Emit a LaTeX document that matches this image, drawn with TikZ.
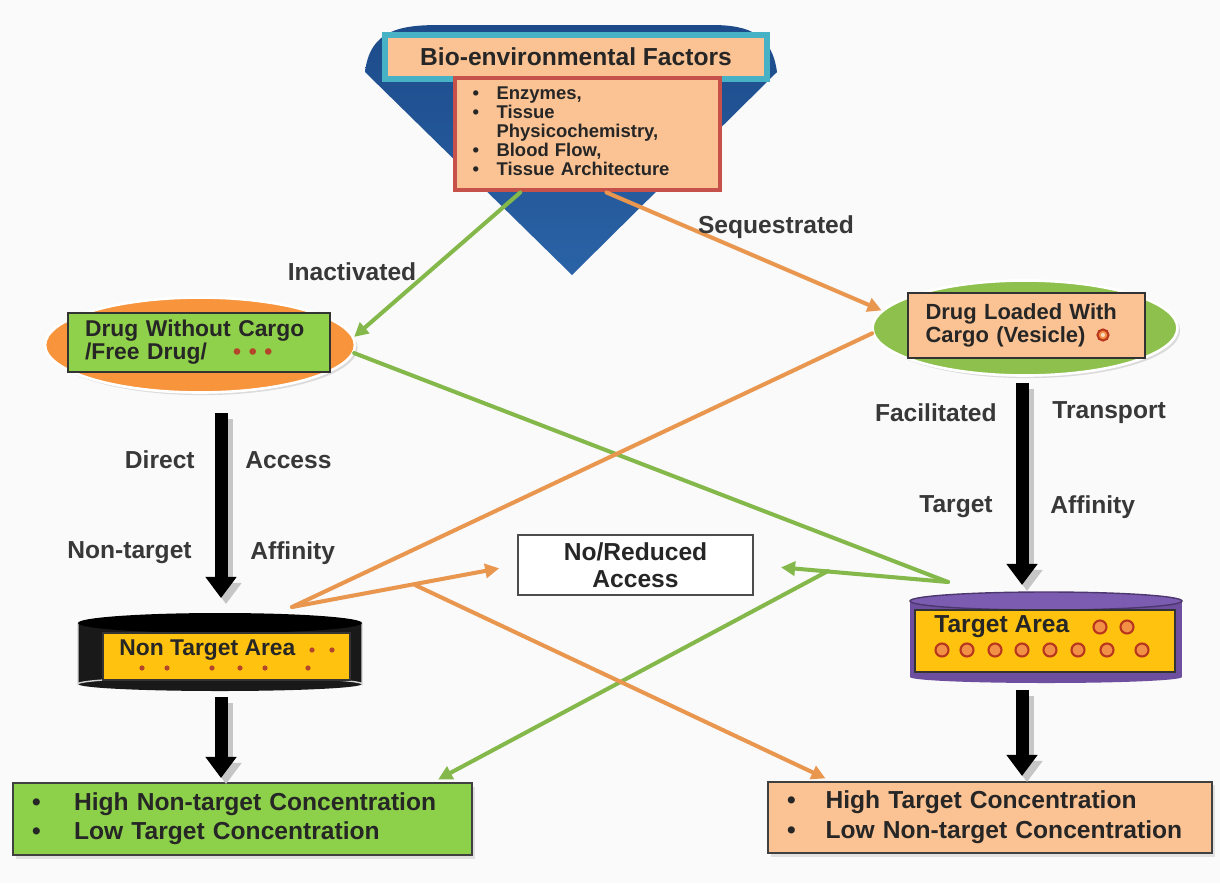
\documentclass[tikz,border=0pt]{standalone}
\usepackage{fontspec}
\setmainfont{Liberation Sans}
\usetikzlibrary{shapes.geometric,arrows.meta,shadows}

\definecolor{bgc}{HTML}{FAFAFA}
\definecolor{funnelblue}{HTML}{1D4B8A}
\definecolor{funnelmid}{HTML}{2A63A6}
\definecolor{titleteal}{HTML}{47B2C6}
\definecolor{peach}{HTML}{FBC393}
\definecolor{factred}{HTML}{C6504A}
\definecolor{ovalorange}{HTML}{F7943C}
\definecolor{ovalgreen}{HTML}{8DC04C}
\definecolor{limegreen}{HTML}{8FD14A}
\definecolor{linegreen}{HTML}{84B84A}
\definecolor{lineorange}{HTML}{E9964F}
\definecolor{areayellow}{HTML}{FFC20E}
\definecolor{purp}{HTML}{6E4E9E}
\definecolor{purptop}{HTML}{7C5CB0}
\definecolor{dotred}{HTML}{B5452A}
\definecolor{ringorange}{HTML}{F29046}
\definecolor{ringred}{HTML}{B8361E}
\definecolor{resgreen}{HTML}{8DD04A}

\begin{document}
\begin{tikzpicture}[x=0.02cm,y=-0.02cm,
  every node/.style={font=\bfseries},
  lbl/.style={font=\bfseries\fontsize{14}{16}\selectfont, text=black!78, inner sep=0pt},
  oval/.style={ellipse, draw=white, line width=1.5pt, minimum height=1.9cm,
    drop shadow={opacity=0.25, shadow xshift=1.5pt, shadow yshift=-1.5pt}},
  inbox/.style={rectangle, draw=black!80, line width=1pt, align=left,
    font=\bfseries\fontsize{13}{13}\selectfont, text=black!85},
  resbox/.style={rectangle, draw=black!75, line width=1.3pt, align=left, inner xsep=0.38cm,
    font=\bfseries\fontsize{14}{17}\selectfont, text=black!85,
    drop shadow={opacity=0.2, shadow xshift=1.5pt, shadow yshift=-2pt}},
  ybox/.style={rectangle, draw=black!80, fill=areayellow, line width=1pt},
  gline/.style={draw=linegreen, line width=2.3pt, line cap=round},
  oline/.style={draw=lineorange, line width=2.3pt, line cap=round},
  garrow/.style={gline, -{Triangle[length=8pt,width=8pt]}},
  oarrow/.style={oline, -{Triangle[length=8pt,width=8pt]}},
  bigarrow/.style={draw=black, line width=7.4pt, -{Triangle[length=12pt,width=17pt]}},
  shadowarrow/.style={bigarrow, draw=gray!45},
  dot/.style={fill=dotred},
  ring/.style={fill=ringorange, draw=ringred, line width=1.2pt}
]
\useasboundingbox (0,0) rectangle (1220,883);
\fill[bgc] (0,0) rectangle (1220,883);

% funnel behind the factors
\shade[top color=funnelblue, bottom color=funnelmid]
  (365,72) .. controls (370,30) and (400,25) .. (440,25) -- (712,25)
  .. controls (750,25) and (772,35) .. (777,72) -- (572,275) -- cycle;
\node[rectangle, draw=titleteal, line width=3.4pt, fill=peach, minimum width=7.64cm, minimum height=0.88cm,
  font=\bfseries\fontsize{14}{16}\selectfont, text=black!85] (bio) at (576,57) {Bio-environmental Factors};
\node[rectangle, draw=factred, line width=2.8pt, fill=peach, minimum width=5.3cm, minimum height=2.24cm,
  text width=4.6cm, inner xsep=0.35cm, align=left, font=\bfseries\fontsize{10.5}{10.8}\selectfont, text=black!85] (factors) at (587.5,134)
  {\begin{tabular}{@{}l@{\hspace{10pt}}l@{}}
   \textbullet & Enzymes,\\
   \textbullet & Tissue\\
               & Physicochemistry,\\
   \textbullet & Blood Flow,\\
   \textbullet & Tissue Architecture
   \end{tabular}};

% drug forms
\node[oval, fill=ovalorange, minimum width=6.2cm] (freeOval) at (200,345) {};
\node[inbox, fill=limegreen, minimum width=5.24cm, minimum height=1.18cm, text width=4.56cm, inner xsep=0.34cm] (freeDrug) at (199,342.5)
  {Drug Without Cargo\\/Free Drug/\hspace{15pt}\textcolor{dotred}{\textbullet\ \textbullet\ \textbullet}};
\node[oval, fill=ovalgreen, minimum width=6.1cm] (cargoOval) at (1025,328) {};
\node[inbox, fill=peach, minimum width=4.74cm, minimum height=1.3cm, text width=4.04cm, inner xsep=0.35cm,
  font=\bfseries\fontsize{12.5}{13}\selectfont] (cargoDrug) at (1026.5,325.5)
  {Drug Loaded With\\Cargo (Vesicle)};
\fill[ring] (1103,335) circle[radius=5.5];
\fill[white!70!ringorange] (1103,335) circle[radius=2];

% non target area
\fill[black!90] (78,623) rectangle (362,684);
\fill[black!90] (220,684) ellipse[x radius=142, y radius=7];
\draw[gray!35, line width=0.8pt] (78,623) -- (78,684) arc[start angle=180, end angle=360, x radius=142, y radius=7] -- (362,623);
\fill[black] (220,623) ellipse[x radius=142, y radius=10];
\node[ybox, minimum width=4.94cm, minimum height=0.94cm] (nonTarget) at (226.5,656.5) {};
\node[anchor=west, inner sep=0pt, font=\bfseries\fontsize{13}{15}\selectfont, text=black!85] (ntLabel) at (119,650) {Non Target Area};
\fill[dot] (312,650) circle[radius=2.6];
\fill[dot] (332,650) circle[radius=2.6];
\foreach \dx in {142,167,212,240,265,308}
  \fill[dot] (\dx,668) circle[radius=2.6];

% target area
\fill[purp] (910,601) rectangle (1182,677);
\fill[purp] (1046,677) ellipse[x radius=136, y radius=6];
\filldraw[fill=purptop, draw=purp!70!black, line width=0.8pt] (1046,601) ellipse[x radius=136, y radius=9];
\node[ybox, minimum width=5.2cm, minimum height=1.24cm] (target) at (1045,641) {};
\node[anchor=west, inner sep=0pt, font=\bfseries\fontsize{14}{16}\selectfont, text=black!85] (tLabel) at (934,627) {Target Area};
\foreach \dx in {1100,1127}
  \fill[ring] (\dx,627) circle[radius=6.5];
\foreach \dx in {942,967,995,1022,1050,1078,1107,1142}
  \fill[ring] (\dx,650) circle[radius=6.5];

% outcome boxes
\node[rectangle, draw=black!70, fill=white, line width=1.3pt, minimum width=4.7cm, minimum height=1.2cm,
  align=center, font=\bfseries\fontsize{14}{15.4}\selectfont, text=black!85] (noAccess) at (635.5,565) {No/Reduced\\Access};
\node[resbox, fill=resgreen, minimum width=9.18cm, minimum height=1.44cm, text width=8.42cm] (leftRes) at (242.5,819)
  {\begin{tabular}{@{}l@{\hspace{19pt}}l@{}}
   \textbullet & High Non-target Concentration\\
   \textbullet & Low Target Concentration
   \end{tabular}};
\node[resbox, fill=peach, minimum width=8.88cm, minimum height=1.42cm, text width=8.12cm] (rightRes) at (990,817.5)
  {\begin{tabular}{@{}l@{\hspace{17pt}}l@{}}
   \textbullet & High Target Concentration\\
   \textbullet & Low Non-target Concentration
   \end{tabular}};

% big black arrows
\coordinate (fa) at (221,413); \coordinate (fb) at (221,598);
\coordinate (ca) at (1022,383); \coordinate (cb) at (1022,585);
\coordinate (na) at (221,697); \coordinate (nb) at (221,778);
\coordinate (ta) at (1022,690); \coordinate (tb) at (1022,776);
\draw[shadowarrow] ([shift={(5,6)}]fa) -- ([shift={(5,6)}]fb);
\draw[shadowarrow] ([shift={(5,6)}]ca) -- ([shift={(5,6)}]cb);
\draw[shadowarrow] ([shift={(5,6)}]na) -- ([shift={(5,6)}]nb);
\draw[shadowarrow] ([shift={(5,6)}]ta) -- ([shift={(5,6)}]tb);
\draw[bigarrow] (fa) -- (fb);
\draw[bigarrow] (ca) -- (cb);
\draw[bigarrow] (na) -- (nb);
\draw[bigarrow] (ta) -- (tb);

% coloured routes
\coordinate (gv) at (948,582); \coordinate (gb) at (828,571);
\coordinate (ov) at (292,607); \coordinate (ob) at (415,585);
\draw[garrow] (factors.221) -- (freeOval.3);
\draw[oarrow] (factors.288) -- (cargoOval.173);
\draw[gline] (freeOval.357) -- (gv);
\draw[garrow, shorten >=0.54cm] (gv) -- (noAccess.east);
\draw[garrow, shorten >=3pt] (gb) -- (leftRes.11);
\draw[oline] (cargoOval.182) -- (ov);
\draw[oarrow, shorten >=0.36cm] (ov) -- (noAccess.west);
\draw[oarrow, shorten >=3pt] (ob) -- (rightRes.167);

% labels
\node[lbl] (inact) at (352,272) {Inactivated};
\node[lbl] (seq) at (776,227) {Sequestrated};
\node[lbl, anchor=east] (direct) at (195,460) {Direct};
\node[lbl, anchor=west] (access) at (245,460) {Access};
\node[lbl, anchor=east] (nontgt) at (192,553) {Non-target};
\node[lbl, anchor=west] (naff) at (250,553) {Affinity};
\node[lbl, anchor=east] (facil) at (997,413) {Facilitated};
\node[lbl, anchor=west] (transp) at (1052,413) {Transport};
\node[lbl, anchor=east] (tgt) at (993,507) {Target};
\node[lbl, anchor=west] (taff) at (1050,507) {Affinity};
\end{tikzpicture}
\end{document}
